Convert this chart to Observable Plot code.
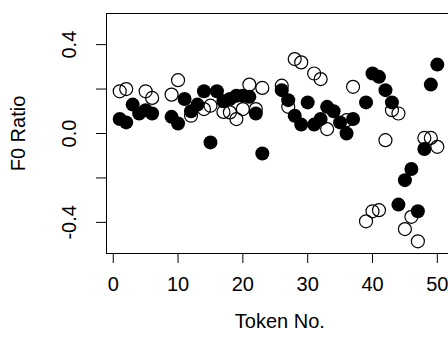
<!DOCTYPE html>
<html>
<head>
<meta charset="utf-8">
<script src="https://cdn.jsdelivr.net/npm/d3@7"></script>
<script src="https://cdn.jsdelivr.net/npm/@observablehq/plot@0.6"></script>
<style>
  html, body { margin: 0; padding: 0; background: white; overflow: hidden; }
</style>
</head>
<body>
<div id="chart"></div>
<script>
// Filled circles
const filledTokens = [1,2,3,4,5,6,9,10,11,12,13,14,15,16,17,18,19,20,21,22,23,26,27,28,29,30,31,32,33,34,35,36,37,39,40,41,42,43,44,45,46,47,48,49,50];
const filledRatios = [0.065,0.05,0.13,0.09,0.105,0.09,0.075,0.045,0.155,0.10,0.13,0.19,-0.04,0.19,0.145,0.155,0.17,0.17,0.165,0.09,-0.09,0.195,0.15,0.08,0.04,0.14,0.04,0.065,0.12,0.10,0.05,0.0,0.065,0.14,0.27,0.255,0.195,0.14,-0.32,-0.21,-0.16,-0.35,-0.07,0.22,0.31];
// Open circles
const openTokens = [1,2,5,6,9,10,12,14,15,17,18,19,20,21,22,23,26,27,28,29,31,32,33,36,37,39,40,41,42,43,44,45,46,47,48,49,50];
const openRatios = [0.19,0.20,0.19,0.16,0.175,0.24,0.08,0.11,0.125,0.097,0.095,0.065,0.11,0.22,0.11,0.205,0.215,0.12,0.335,0.32,0.27,0.245,0.02,0.06,0.21,-0.395,-0.35,-0.345,-0.03,0.105,0.09,-0.43,-0.375,-0.485,-0.02,-0.02,-0.06];

const xTicks = [0,10,20,30,40,50];
const yTicks = [-0.4,-0.2,0,0.2,0.4];
const yLabelTicks = [-0.4,0,0.4];
const yLabelText = ["-0.4","0.0","0.4"];
const xTitle = "Token No.";
const yTitle = "F0 Ratio";

const filled = filledTokens.map((t,i) => ({t, r: filledRatios[i]}));
const open = openTokens.map((t,i) => ({t, r: openRatios[i]}));
const yLabels = yLabelTicks.map((v,i) => ({v, s: yLabelText[i]}));

const font = "'Liberation Sans', Arial, Helvetica, sans-serif";
const fs = 20;

const chart = Plot.plot({
  width: 448,
  height: 352,
  marginLeft: 106,
  marginTop: 13,
  marginBottom: 99,
  marginRight: -15,
  x: {domain: [-1.04, 54.04], axis: null},
  y: {domain: [-0.54, 0.54], axis: null},
  style: {fontFamily: font, fontSize: fs + "px", background: "white", color: "black", overflow: "visible"},
  marks: [
    Plot.frame({stroke: "black", strokeWidth: 1}),
    Plot.axisX(xTicks, {tickSize: 10, tickFormat: () => "", label: null, stroke: "black", strokeWidth: 1}),
    Plot.axisY(yTicks, {tickSize: 10, tickFormat: () => "", label: null, stroke: "black", strokeWidth: 1}),
    Plot.text(xTicks, {x: d => d, frameAnchor: "bottom", dy: 31, lineAnchor: "middle", text: d => String(d), fontSize: fs, fill: "black"}),
    Plot.text(yLabels, {y: "v", text: "s", frameAnchor: "left", dx: -37, rotate: -90, textAnchor: "middle", lineAnchor: "middle", fontSize: fs, fill: "black"}),
    Plot.text([xTitle], {x: 25.7, frameAnchor: "bottom", dy: 68, lineAnchor: "middle", text: d => d, fontSize: fs, fill: "black"}),
    Plot.text([yTitle], {y: 0, frameAnchor: "left", dx: -88, rotate: -90, textAnchor: "middle", lineAnchor: "middle", text: d => d, fontSize: fs, fill: "black"}),
    Plot.dot(open, {x: "t", y: "r", r: 6.5, stroke: "black", strokeWidth: 1.2, fill: "none"}),
    Plot.dot(filled, {x: "t", y: "r", r: 7, fill: "black", stroke: "none"})
  ]
});
document.getElementById("chart").appendChild(chart);
</script>
</body>
</html>
